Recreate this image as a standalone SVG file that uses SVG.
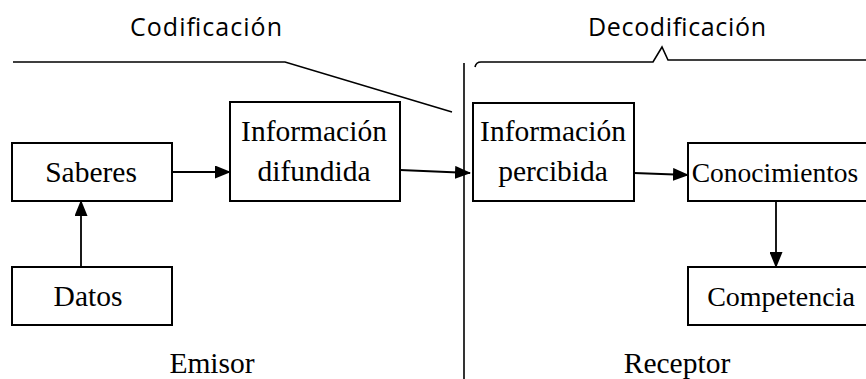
<svg xmlns="http://www.w3.org/2000/svg" width="866" height="379" viewBox="0 0 866 379">
<defs>
<style>
.box{fill:#fff;stroke:#000;stroke-width:2}
.t{font-family:"Liberation Serif","Times New Roman",serif;font-size:29.5px;fill:#000;text-anchor:middle}
.s{font-family:"Open Sans","Liberation Sans",Arial,sans-serif;font-size:25px;fill:#000;text-anchor:middle}
.ln{fill:none;stroke:#000;stroke-width:1.6}
.c{fill:none;stroke:#000;stroke-width:1.8}
</style>
<marker id="ah" markerWidth="16" markerHeight="13" refX="15" refY="6.5" orient="auto" markerUnits="userSpaceOnUse">
<path d="M0,0 L16,6.5 L0,13 Z" fill="#000"/>
</marker>
</defs>
<rect width="866" height="379" fill="#fff"/>
<g id="labels">
<text class="s" x="206" y="36" textLength="152" lengthAdjust="spacing">Codificación</text>
<text class="s" x="677" y="36" textLength="178" lengthAdjust="spacing">Decodificación</text>
<text class="t" x="212" y="373">Emisor</text>
<text class="t" x="677" y="373">Receptor</text>
</g>
<g id="dividers">
<path class="ln" d="M13,62 L285,62 L452,112"/>
<path class="ln" d="M475,67 Q476,62 481,62 L653,62 L662,47 L668,60 L866,60"/>
<line class="ln" x1="464" y1="63" x2="464" y2="379" stroke-width="2"/>
</g>
<g id="n-saberes">
<rect class="box" x="12" y="143" width="160" height="58"/>
<text class="t" x="91" y="182">Saberes</text>
</g>
<g id="n-datos">
<rect class="box" x="12" y="267" width="160" height="58"/>
<text class="t" x="88" y="306">Datos</text>
</g>
<g id="n-difundida">
<rect class="box" x="230" y="102" width="170" height="99"/>
<text class="t" x="314" y="141">Información</text>
<text class="t" x="314" y="181">difundida</text>
</g>
<g id="n-percibida">
<rect class="box" x="473" y="103" width="161" height="98"/>
<text class="t" x="553" y="141">Información</text>
<text class="t" x="553" y="181">percibida</text>
</g>
<g id="n-conocimientos">
<path class="box" d="M866,143 L688,143 L688,201 L866,201"/>
<text class="t" x="775" y="182" style="font-size:27.5px">Conocimientos</text>
</g>
<g id="n-competencia">
<path class="box" d="M866,267 L688,267 L688,325 L866,325"/>
<text class="t" x="781" y="306" style="font-size:28px">Competencia</text>
</g>
<g id="connectors">
<line class="c" x1="172" y1="172" x2="230" y2="172" marker-end="url(#ah)"/>
<line class="c" x1="81" y1="267" x2="81" y2="201" marker-end="url(#ah)"/>
<line class="c" x1="400" y1="170" x2="470" y2="173" marker-end="url(#ah)"/>
<line class="c" x1="634" y1="173" x2="688" y2="175" marker-end="url(#ah)"/>
<line class="c" x1="776" y1="201" x2="776" y2="267" marker-end="url(#ah)"/>
</g>
</svg>
